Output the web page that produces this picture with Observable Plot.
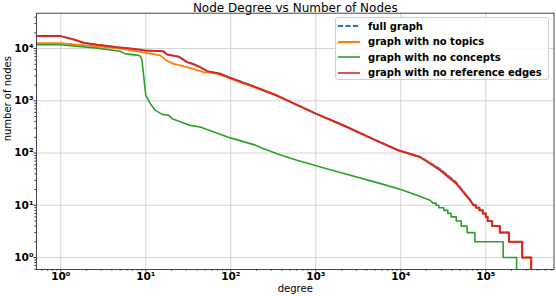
<!DOCTYPE html>
<html><head><meta charset="utf-8">
<script src="https://cdn.jsdelivr.net/npm/d3@7"></script>
<script src="https://cdn.jsdelivr.net/npm/@observablehq/plot@0.6"></script>
<style>
body{margin:0;background:#fff;font-family:"DejaVu Sans",sans-serif;}
#wrap{position:relative;width:556px;height:296px;overflow:hidden;}
#legend{position:absolute;left:335px;top:17px;width:214px;height:63px;box-sizing:border-box;border:1px solid #d0d0d0;border-radius:3px;background:rgba(255,255,255,0.85);font:bold 10px "DejaVu Sans";color:#000;}
.row{position:absolute;left:2px;height:14px;display:flex;align-items:center;white-space:nowrap;}
.row svg{margin-right:8px;}
</style></head>
<body><div id="wrap"><div id="legend"></div></div>
<script>
// ---- data: [degree, number of nodes] ----
const seriesNames = ["full graph", "graph with no topics", "graph with no concepts", "graph with no reference edges"];
const seriesColors = ["#1f77b4", "#ff7f0e", "#2ca02c", "#d62728"];

const fullBody = [[0.5,17300],[1,17300],[1.42,14900],[1.86,12900],[2.68,11800],[4.6,10600],[6.6,10000],[9.9,9200],[16,8900],[17.8,7700],[24.5,7000],[30.6,5500],[36.6,5000],[43.6,4400],[52.7,3700],[75,3300],[99,2750],[170,2000],[350,1260],[1000,570],[2100,340],[5100,176],[9300,114],[16700,86],[22000,66],[29000,50],[45000,27.5],[65000,13],[72000,10]];
const fullTail = [[72000,10],[77000,9],[84000,8],[92000,7],[100000,6],[105000,5],[119000,4],[146000,3],[187000,2],[268000,1],[342000,0]];

const noTopicsBody = [[0.5,12700],[1,12700],[1.42,12000],[2.68,11000],[5,10000],[8.6,8600],[10,8300],[14.8,7400],[17.8,5800],[21.3,5100],[30.6,4400],[48,3550],[69,3300],[99,2650],[170,1920],[350,1240],[1000,565],[2100,338],[5100,174],[9300,113],[16700,85],[22000,65],[29000,48],[45000,26.5],[65000,12.7],[72000,10]];
const noTopicsTail = [[72000,10],[77000,9],[84000,8],[92000,7],[100000,6],[105000,5],[119000,4],[146000,3],[187000,2],[268000,1],[342000,0]];

const noConceptsBody = [[0.5,11800],[1,11800],[2.68,10200],[5,8900],[5.77,7900],[8.28,7400],[8.66,7100],[9,6100],[10,1270],[11.3,880],[13,655],[15.6,550],[18.6,527],[20.4,455],[33.4,338],[43.6,314],[99,195],[186,145],[244,121],[385,92],[600,73],[1480,48],[5800,26],[10000,20],[15500,15.5],[22000,12.5],[24000,11]];
const noConceptsTail = [[24000,11],[26000,10],[28000,9],[32000,8],[35700,7],[39000,6],[44900,5],[51300,4],[60300,3],[74300,2],[160000,1],[230000,0]];

const noRefBody = [[0.5,17300],[1,17300],[1.42,14900],[1.86,12900],[2.68,11800],[4.6,10600],[6.6,10000],[9.9,9200],[16,8900],[17.8,7700],[24.5,7000],[30.6,5500],[36.6,5000],[43.6,4400],[52.7,3700],[75,3300],[99,2750],[170,2000],[350,1260],[1000,570],[2100,340],[5100,175],[9300,113],[16700,84],[22000,63],[29000,47],[45000,26],[65000,12.5],[72000,10]];
const noRefTail = [[72000,10],[77000,9],[84000,8],[92000,7],[100000,6],[105000,5],[119000,4],[146000,3],[187000,2],[268000,1],[342000,0]];

const majorX = [1, 10, 100, 1000, 10000, 100000];
const majorY = [1, 10, 100, 1000, 10000];
const titleText = "Node Degree vs Number of Nodes";
const xLabel = "degree";
const yLabel = "number of nodes";

// ---- helpers ----
const supMap = {"-":"\u207B","0":"\u2070","1":"\u00B9","2":"\u00B2","3":"\u00B3","4":"\u2074","5":"\u2075","6":"\u2076"};
const fmt = d => "10" + String(Math.round(Math.log10(d))).split("").map(c => supMap[c]).join("");
function minors(lo, hi) {
  const out = [];
  for (let k = -1; k <= 6; k++) for (let m = 2; m <= 9; m++) { const v = m * 10 ** k; if (v >= lo && v <= hi) out.push(v); }
  return out;
}
const xDomain = [0.518, 6.34e5], yDomain = [0.59, 4.75e4];
const X = d => d[0];
const Y = d => d[1] > 0 ? d[1] : 1e-3; // zero count drops off the log axis

const series = [
  {body: fullBody, tail: fullTail, color: seriesColors[0], w: 1.5, dash: "5,2.5"},
  {body: noTopicsBody, tail: noTopicsTail, color: seriesColors[1], w: 1.8, dash: null},
  {body: noConceptsBody, tail: noConceptsTail, color: seriesColors[2], w: 1.6, dash: null},
  {body: noRefBody, tail: noRefTail, color: seriesColors[3], w: 2, dash: null}
];
const lineMarks = [];
for (const s of series) {
  lineMarks.push(Plot.line(s.body, {x: X, y: Y, stroke: s.color, strokeWidth: s.w, strokeDasharray: s.dash, clip: true}));
  lineMarks.push(Plot.line(s.tail, {x: X, y: Y, stroke: s.color, strokeWidth: s.w, strokeDasharray: s.dash, curve: "step-after", clip: true}));
}

const chart = Plot.plot({
  width: 556, height: 296,
  marginLeft: 36, marginRight: 2.5, marginTop: 12.7, marginBottom: 27,
  x: {type: "log", domain: xDomain},
  y: {type: "log", domain: yDomain},
  style: {fontFamily: "DejaVu Sans", fontSize: "10px", background: "white", color: "#000"},
  marks: [
    Plot.gridX(majorX, {stroke: "#c8c8c8", strokeOpacity: 1, strokeWidth: 0.8}),
    Plot.gridY(majorY, {stroke: "#c8c8c8", strokeOpacity: 1, strokeWidth: 0.8}),
    ...lineMarks,
    Plot.axisX(minors(...xDomain), {tickSize: 1.6, tickFormat: () => "", label: null, stroke: "#333"}),
    Plot.axisY(minors(...yDomain), {tickSize: 1.6, tickFormat: () => "", label: null, stroke: "#333"}),
    Plot.axisX(majorX, {tickSize: 2.5, tickPadding: 0.8, tickFormat: fmt, label: null, fontWeight: "bold", fontSize: 10.5, stroke: "#333"}),
    Plot.axisY(majorY, {tickSize: 2.5, tickPadding: 0.5, tickFormat: fmt, label: null, fontWeight: "bold", fontSize: 10.5, stroke: "#333"}),
    Plot.frame({stroke: "#333", strokeWidth: 0.9}),
    Plot.text([titleText], {frameAnchor: "top", dy: -5.2, text: d => d, fontSize: 12, lineAnchor: "middle"}),
    Plot.text([xLabel], {frameAnchor: "bottom", dy: 19.3, text: d => d, fontSize: 10, lineAnchor: "middle"}),
    Plot.text([yLabel], {frameAnchor: "left", dx: -29, rotate: -90, text: d => d, fontSize: 10, lineAnchor: "middle"})
  ]
});
const wrap = document.getElementById("wrap");
wrap.insertBefore(chart, wrap.firstChild);

// legend
const legend = document.getElementById("legend");
const rowCenters = [8, 23.7, 39, 54.7];
seriesNames.forEach((name, i) => {
  const row = document.createElement("div");
  row.className = "row";
  row.style.top = (rowCenters[i] - 7) + "px";
  const s = series[i];
  row.innerHTML = `<svg width="22" height="6"><line x1="0" x2="22" y1="3" y2="3" stroke="${s.color}" stroke-width="2" ${s.dash ? `stroke-dasharray="${s.dash}"` : ""} stroke-opacity="${i >= 2 ? 0.8 : 1}"/></svg><span>${name}</span>`;
  legend.appendChild(row);
});
</script>
</body></html>
